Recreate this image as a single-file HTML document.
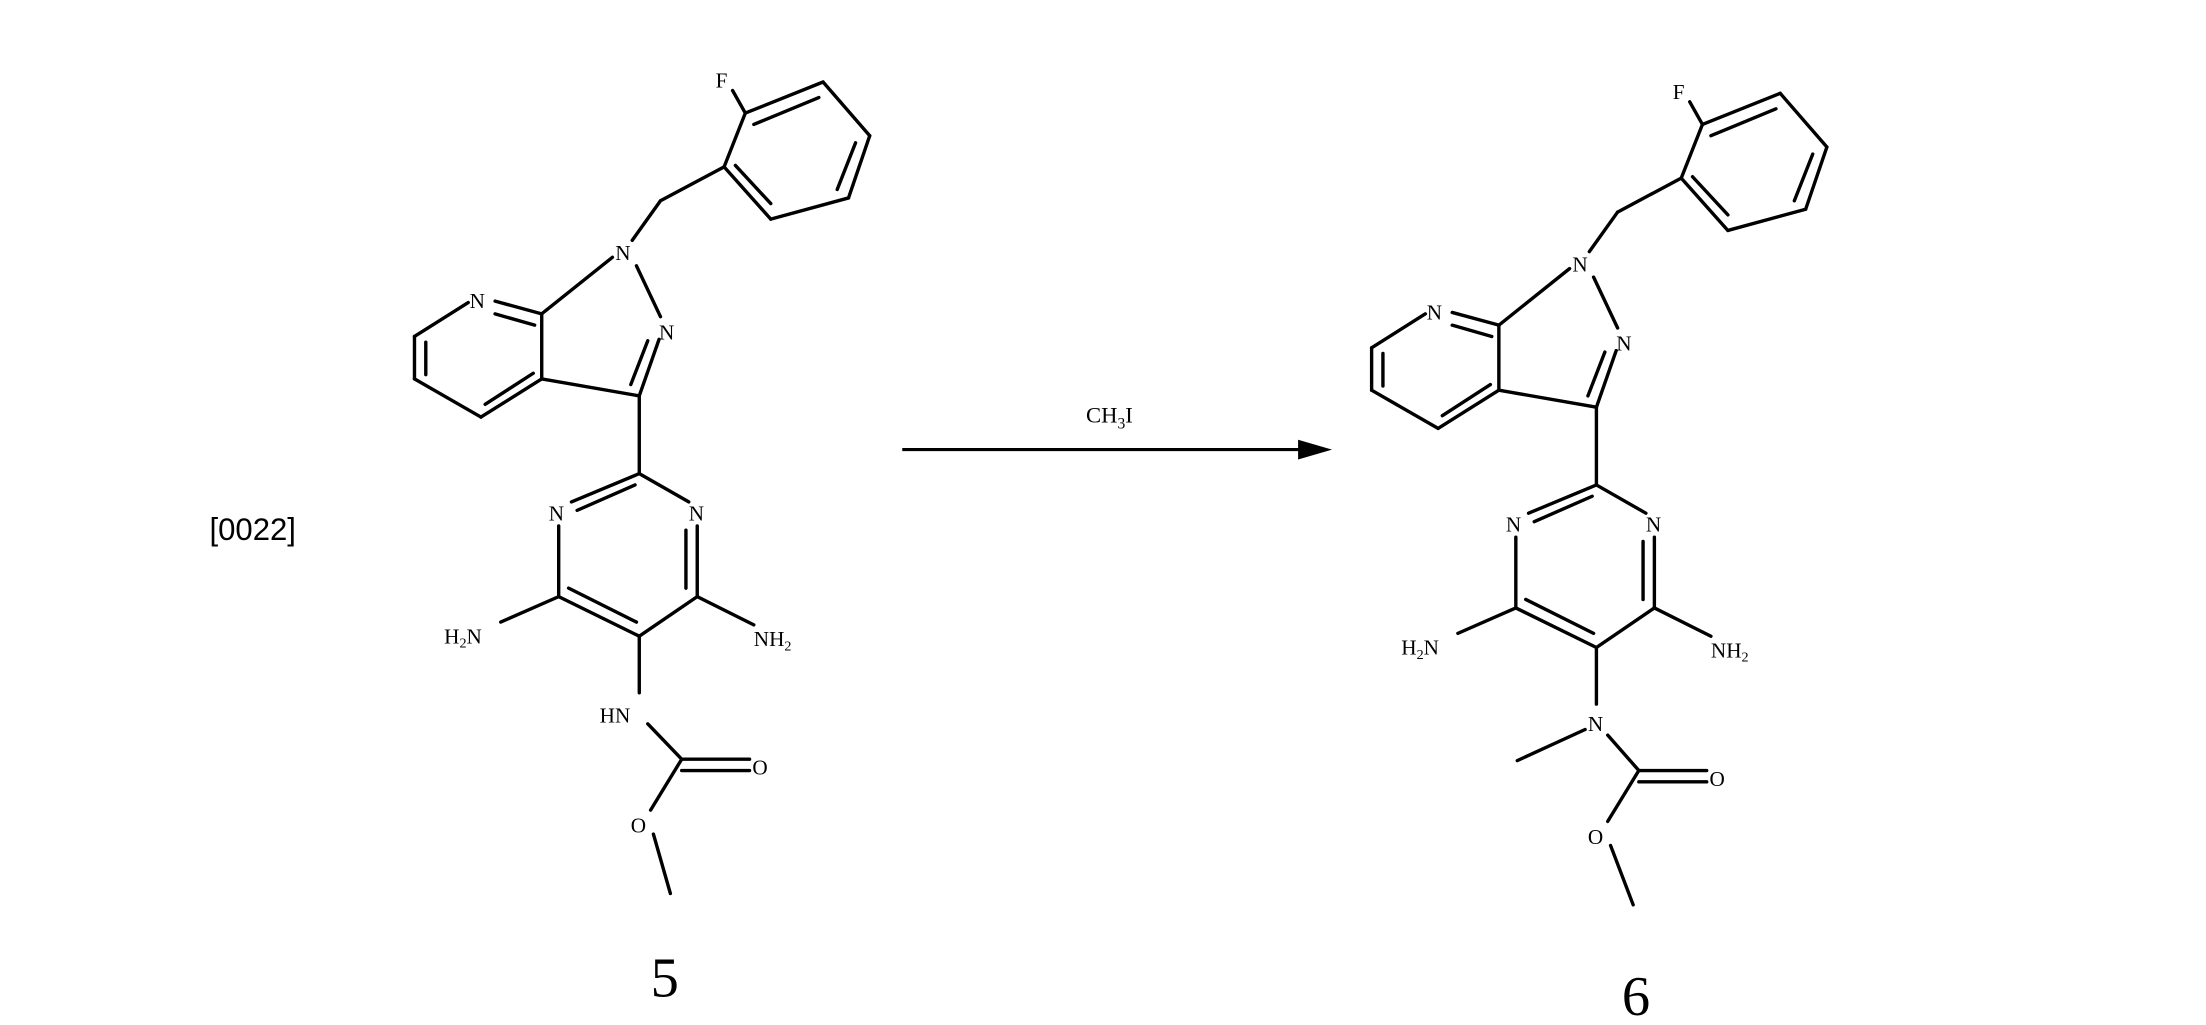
<!DOCTYPE html>
<html><head><meta charset="utf-8"><style>
html,body{margin:0;padding:0;background:#fff;width:2206px;height:1025px;overflow:hidden}
svg{display:block}
text{font-family:"Liberation Serif",serif;fill:#000}
</style></head><body>
<svg width="2206" height="1025" viewBox="0 0 1560 725" xmlns="http://www.w3.org/2000/svg">
<defs>
<g id="core" stroke="#000" stroke-width="2.4" fill="none" stroke-linecap="round">
  <line x1="518" y1="64" x2="527" y2="80"/>
  <line x1="527" y1="80" x2="582" y2="58"/><line x1="533" y1="88" x2="579" y2="69"/>
  <line x1="582" y1="58" x2="615" y2="96"/>
  <line x1="615" y1="96" x2="600" y2="140"/><line x1="605" y1="101" x2="592" y2="134"/>
  <line x1="600" y1="140" x2="545" y2="155"/>
  <line x1="545" y1="155" x2="512" y2="118"/><line x1="545" y1="144" x2="520" y2="117"/>
  <line x1="512" y1="118" x2="527" y2="80"/>
  <line x1="512" y1="118" x2="467" y2="142"/>
  <line x1="467" y1="142" x2="447" y2="170"/>
  <line x1="433" y1="182" x2="383" y2="222"/>
  <line x1="450" y1="188" x2="467" y2="224"/>
  <line x1="466" y1="240" x2="452" y2="280"/><line x1="458" y1="241" x2="446" y2="272"/>
  <line x1="452" y1="280" x2="383" y2="268"/>
  <line x1="383" y1="268" x2="383" y2="222"/>
  <line x1="383" y1="222" x2="350" y2="213"/><line x1="378" y1="230" x2="350" y2="222"/>
  <line x1="331" y1="214" x2="293" y2="238"/>
  <line x1="293" y1="238" x2="293" y2="268"/><line x1="301" y1="242" x2="301" y2="265"/>
  <line x1="293" y1="268" x2="340" y2="295"/>
  <line x1="340" y1="295" x2="383" y2="268"/><line x1="343" y1="286" x2="377" y2="264"/>
  <line x1="452" y1="280" x2="452" y2="335"/>
  <line x1="452" y1="335" x2="404" y2="355"/><line x1="449" y1="343" x2="408" y2="361"/>
  <line x1="452" y1="335" x2="487" y2="355"/>
  <line x1="395" y1="372" x2="395" y2="422"/>
  <line x1="493" y1="372" x2="493" y2="422"/><line x1="485" y1="375" x2="485" y2="416"/>
  <line x1="395" y1="422" x2="452" y2="450"/><line x1="402" y1="416" x2="450" y2="440"/>
  <line x1="452" y1="450" x2="493" y2="422"/>
  <line x1="395" y1="422" x2="354" y2="440"/>
  <line x1="493" y1="422" x2="533" y2="442"/>
  <line x1="452" y1="450" x2="452" y2="490"/>
</g>
</defs>

<text x="148" y="382" font-size="22" style="font-family:'Liberation Sans',sans-serif">[0022]</text>

<use href="#core"/>
<g stroke="#000" stroke-width="2.4" fill="none" stroke-linecap="round">
  <line x1="458" y1="512" x2="482" y2="537"/>
  <line x1="482" y1="537" x2="530" y2="537"/><line x1="482" y1="545" x2="530" y2="545"/>
  <line x1="482" y1="537" x2="460" y2="573"/>
  <line x1="462" y1="590" x2="474" y2="632"/>
</g>
<g font-size="15">
<text x="506" y="62">F</text>
<text x="435" y="184">N</text>
<text x="466" y="240">N</text>
<text x="332" y="218">N</text>
<text x="388" y="368">N</text>
<text x="487" y="368">N</text>
<text x="314" y="455">H<tspan font-size="10" dy="3">2</tspan><tspan dy="-3">N</tspan></text>
<text x="533" y="457">NH<tspan font-size="10" dy="3">2</tspan></text>
<text x="424" y="511">HN</text>
<text x="532" y="548">O</text>
<text x="446" y="589">O</text>
</g>
<text x="460" y="705" font-size="40">5</text>

<line x1="638" y1="318" x2="925" y2="318" stroke="#000" stroke-width="2.2"/>
<polygon points="942,318 918,311 918,325" fill="#000"/>
<text x="768" y="299" font-size="16">CH<tspan font-size="11" dy="4">3</tspan><tspan dy="-4">I</tspan></text>

<g transform="translate(677,8)">
<use href="#core"/>
<g stroke="#000" stroke-width="2.4" fill="none" stroke-linecap="round">
  <line x1="444" y1="508" x2="396" y2="530"/>
  <line x1="460" y1="512" x2="482" y2="537"/>
  <line x1="482" y1="537" x2="530" y2="537"/><line x1="482" y1="545" x2="530" y2="545"/>
  <line x1="482" y1="537" x2="460" y2="573"/>
  <line x1="462" y1="590" x2="478" y2="632"/>
</g>
<g font-size="15">
<text x="506" y="62">F</text>
<text x="435" y="184">N</text>
<text x="466" y="240">N</text>
<text x="332" y="218">N</text>
<text x="388" y="368">N</text>
<text x="487" y="368">N</text>
<text x="314" y="455">H<tspan font-size="10" dy="3">2</tspan><tspan dy="-3">N</tspan></text>
<text x="533" y="457">NH<tspan font-size="10" dy="3">2</tspan></text>
<text x="446" y="509">N</text>
<text x="532" y="548">O</text>
<text x="446" y="589">O</text>
</g>
<text x="470" y="710" font-size="40">6</text>
</g>
</svg>
</body></html>
